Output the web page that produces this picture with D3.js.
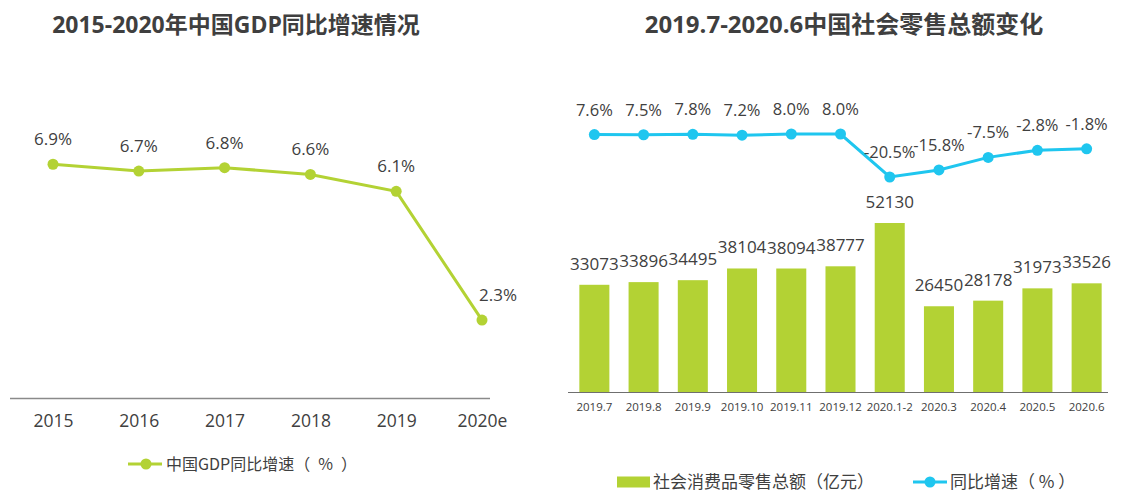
<!DOCTYPE html>
<html><head><meta charset="utf-8">
<script src="https://cdn.jsdelivr.net/npm/d3@7/dist/d3.min.js"></script>
<style>
html,body{margin:0;padding:0;background:#fff;}
text{font-family:"Open Sans","Noto Sans CJK SC",sans-serif;fill:#404040;}
.cjk{font-family:"Noto Sans CJK SC","Open Sans",sans-serif;}
</style></head>
<body>
<svg id="c" width="1130" height="504"></svg>
<script>
// ---- data ----
const gdpYears = ["2015","2016","2017","2018","2019","2020e"];
const gdpGrowth = [6.9, 6.7, 6.8, 6.6, 6.1, 2.3];

const retailMonths = ["2019.7","2019.8","2019.9","2019.10","2019.11","2019.12","2020.1-2","2020.3","2020.4","2020.5","2020.6"];
const retailTotal = [33073, 33896, 34495, 38104, 38094, 38777, 52130, 26450, 28178, 31973, 33526];
const retailGrowth = [7.6, 7.5, 7.8, 7.2, 8.0, 8.0, -20.5, -15.8, -7.5, -2.8, -1.8];

const GREEN = "#b3d234", CYAN = "#1fc6ef";
const svg = d3.select("#c");

// ---- left chart ----
svg.append("text").attr("x",236).attr("y",33).attr("text-anchor","middle")
  .style("font-size","23px").style("font-weight","bold").style("fill","#3f3f3f")
  .text("2015-2020年中国GDP同比增速情况");

const xL = d3.scalePoint().domain(gdpYears).range([53,482]);
const yL = d3.scaleLinear().domain([0,8]).range([398,127]);

const axL = svg.append("g").attr("transform","translate(0,398)")
  .call(d3.axisBottom(xL).tickSize(0).tickPadding(17));
axL.select(".domain").remove();
axL.selectAll("text").style("font-size","17.5px").style("fill","#404040");
svg.append("line").attr("x1",10).attr("x2",490).attr("y1",398.5).attr("y2",398.5)
  .attr("stroke","#8a8a8a").attr("stroke-width",1.5);

svg.append("path").datum(gdpGrowth)
  .attr("fill","none").attr("stroke",GREEN).attr("stroke-width",3)
  .attr("d", d3.line().x((d,i)=>xL(gdpYears[i])).y(d=>yL(d)));
svg.selectAll(".gdot").data(gdpGrowth).enter().append("circle")
  .attr("cx",(d,i)=>xL(gdpYears[i])).attr("cy",d=>yL(d)).attr("r",5.5).attr("fill",GREEN);
const lastG = gdpGrowth.length-1;
svg.selectAll(".glab").data(gdpGrowth).enter().append("text")
  .attr("x",(d,i)=>xL(gdpYears[i]) + (i===lastG?16:0))
  .attr("y",d=>yL(d)-19).attr("text-anchor","middle")
  .style("font-size","17px").text(d=>d.toFixed(1)+"%");

// left legend
const lgL = svg.append("g").attr("transform","translate(128,464)");
lgL.append("line").attr("x1",0).attr("x2",34).attr("stroke",GREEN).attr("stroke-width",3);
lgL.append("circle").attr("cx",18).attr("r",5.5).attr("fill",GREEN);
lgL.append("text").attr("class","cjk").attr("x",38).attr("y",6).style("font-size","16px")
  .text("中国GDP同比增速（\u2002%\u2002）");

// ---- right chart ----
svg.append("text").attr("x",844).attr("y",33).attr("text-anchor","middle")
  .style("font-size","24px").style("font-weight","bold").style("fill","#3f3f3f")
  .text("2019.7-2020.6中国社会零售总额变化");

const xR = d3.scaleBand().domain(retailMonths).range([569.5,1111.5]).paddingInner(0.39).paddingOuter(0.2);
const yBar = d3.scaleLinear().domain([0,60000]).range([392,197.5]);
const yLine = d3.scaleLinear().domain([-20.5,8]).range([177,134]);

svg.selectAll(".bar").data(retailTotal).enter().append("rect")
  .attr("x",(d,i)=>xR(retailMonths[i])).attr("width",xR.bandwidth())
  .attr("y",d=>yBar(d)).attr("height",d=>392-yBar(d)).attr("fill",GREEN);
svg.selectAll(".blab").data(retailTotal).enter().append("text")
  .attr("x",(d,i)=>xR(retailMonths[i])+xR.bandwidth()/2).attr("y",d=>yBar(d)-15)
  .attr("text-anchor","middle").style("font-size","17px").text(d=>d);

const axR = svg.append("g").attr("transform","translate(0,392)")
  .call(d3.axisBottom(xR).tickSize(0).tickPadding(11));
axR.select(".domain").remove();
axR.selectAll("text").style("font-size","11.5px").style("fill","#404040");
svg.append("line").attr("x1",568).attr("x2",1108).attr("y1",392.5).attr("y2",392.5)
  .attr("stroke","#6f6f6f").attr("stroke-width",1.2);

const cx = (i)=>xR(retailMonths[i])+xR.bandwidth()/2;
svg.append("path").datum(retailGrowth)
  .attr("fill","none").attr("stroke",CYAN).attr("stroke-width",3)
  .attr("d", d3.line().x((d,i)=>cx(i)).y(d=>yLine(d)));
svg.selectAll(".ldot").data(retailGrowth).enter().append("circle")
  .attr("cx",(d,i)=>cx(i)).attr("cy",d=>yLine(d)).attr("r",5.5).attr("fill",CYAN);
svg.selectAll(".llab").data(retailGrowth).enter().append("text")
  .attr("x",(d,i)=>cx(i)).attr("y",d=>yLine(d)-19).attr("text-anchor","middle")
  .style("font-size","16.5px").text(d=>d.toFixed(1)+"%");

// right legend
const lgR = svg.append("g").attr("transform","translate(617,482)");
lgR.append("rect").attr("x",0).attr("y",-5.5).attr("width",33).attr("height",11).attr("fill",GREEN);
lgR.append("text").attr("class","cjk").attr("x",36).attr("y",6).style("font-size","17px")
  .text("社会消费品零售总额（亿元）");
const lgR2 = svg.append("g").attr("transform","translate(913,482)");
lgR2.append("line").attr("x1",0).attr("x2",34).attr("stroke",CYAN).attr("stroke-width",3);
lgR2.append("circle").attr("cx",17).attr("r",5.5).attr("fill",CYAN);
lgR2.append("text").attr("class","cjk").attr("x",37).attr("y",6).style("font-size","17px")
  .text("同比增速（ % ）");
</script>
</body></html>
